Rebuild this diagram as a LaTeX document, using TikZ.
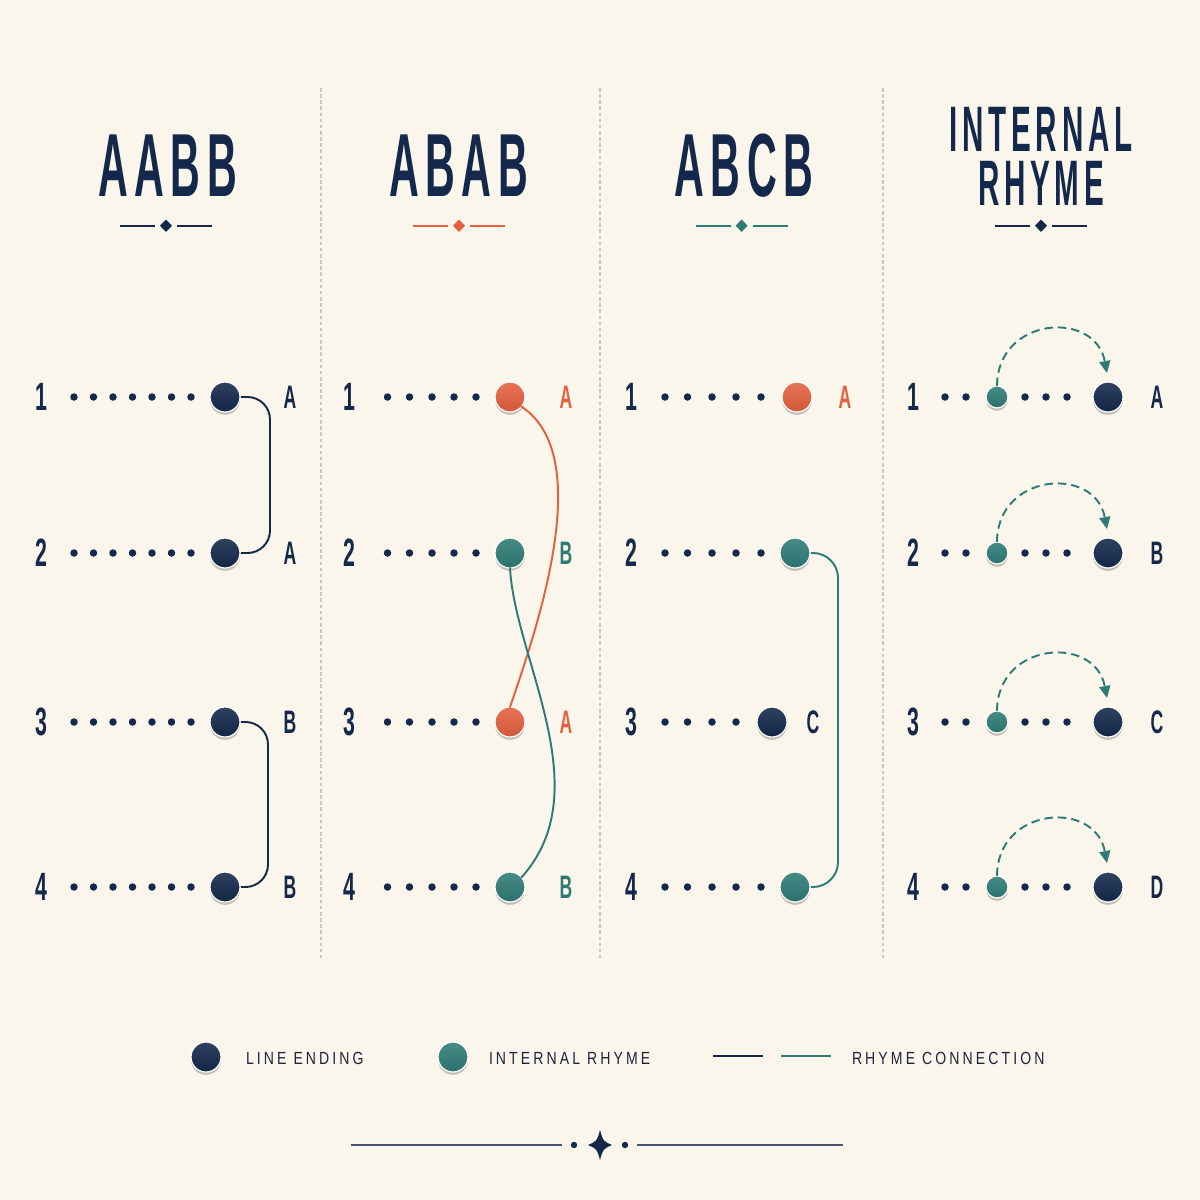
\documentclass[tikz,border=0pt]{standalone}
\usepackage{fontspec}
\usepackage{graphicx}
\usetikzlibrary{arrows.meta,shadows}
\setmainfont{Liberation Sans}
\newfontfamily\tfont{Liberation Sans}[LetterSpace=16]
\newfontfamily\lgfont{Liberation Sans}[LetterSpace=22]
\definecolor{bgc}{HTML}{FBF6EC}
\definecolor{navy}{HTML}{13284A}
\definecolor{orng}{HTML}{E4603E}
\definecolor{tealc}{HTML}{2E7B76}
\definecolor{sepc}{HTML}{CEC7BA}
\definecolor{ornc}{HTML}{4A566F}
\definecolor{legc}{HTML}{1C2438}
\newcommand\ttl[1]{\scalebox{0.46}[1]{\fontsize{51}{51}\selectfont\tfont\bfseries #1}}
\newcommand\ttlb[1]{\scalebox{0.46}[1]{\fontsize{36.6}{36.6}\selectfont\tfont\bfseries #1}}
\newcommand\rnum[1]{\scalebox{0.54}[1]{\fontsize{22.5}{22.5}\selectfont\bfseries #1}}
\newcommand\rlab[1]{\scalebox{0.54}[1]{\fontsize{18.5}{18.5}\selectfont\bfseries #1}}
\newcommand\lgd[1]{\scalebox{0.8}[1]{\fontsize{10}{10}\selectfont\lgfont #1}}
\tikzset{
  every node/.style={inner sep=0pt, outer sep=0pt},
  bigdot/.style={circle, minimum size=0.6cm, draw=white!75!bgc, line width=0.7pt,
    drop shadow={shadow xshift=0pt, shadow yshift=-1.6pt, opacity=0.22, fill=black},
    top color=#1!88!white, bottom color=#1!92!black},
  intdot/.style={bigdot=#1, minimum size=0.44cm},
  sdot/.style={circle, fill=navy, minimum size=0.15cm},
  conn/.style={line width=1.1pt, line cap=round},
  sepline/.style={sepc, line width=0.6pt, dash pattern=on 2pt off 1.5pt},
  ornline/.style={line width=1pt},
  arcarrow/.style={tealc, line width=1.1pt, dash pattern=on 0.17cm off 0.1cm,
    -{Triangle[length=0.24cm,width=0.22cm]}},
}
\begin{document}
\begin{tikzpicture}[x=0.02cm, y=-0.02cm]
\fill[bgc] (0,0) rectangle (1200,1200);
\useasboundingbox (0,0) rectangle (1200,1200);

% separators
\draw[sepline] (321,88) -- (321,958);
\draw[sepline] (600,88) -- (600,958);
\draw[sepline] (883,88) -- (883,958);

% titles
\node[anchor=base, text=navy] (t1) at (167.5,196) {\ttl{AABB}};
\node[anchor=base, text=navy] (t2) at (458.5,196) {\ttl{ABAB}};
\node[anchor=base, text=navy] (t3) at (744,196) {\ttl{ABCB}};
\node[text=navy, align=center, font=\fontsize{36.6}{30.7}\selectfont] (t4) at (1041,156)
  {\ttlb{INTERNAL}\\\ttlb{RHYME}};

% title ornaments
\foreach \cx/\cc in {166/navy,459/orng,741.6/tealc,1041/navy}{
  \draw[ornline, \cc] (\cx-46,225.7) -- (\cx-11,225.7);
  \draw[ornline, \cc] (\cx+11,225.7) -- (\cx+46,225.7);
  \fill[\cc] (\cx,219.5) -- (\cx+6,225.7) -- (\cx,231.9) -- (\cx-6,225.7) -- cycle;
}

% ---------- column 1 : AABB
\foreach \r/\y/\l in {1/397/A,2/553/A,3/722/B,4/887/B}{
  \node[text=navy] (c1n\r) at (41.5,\y) {\rnum{\r}};
  \foreach \k [count=\i] in {74,93.5,113,132.5,152,171.5,191}{
    \node[sdot] (c1r\r s\i) at (\k,\y) {};
  }
  \node[text=navy] (c1l\r) at (290,\y) {\rlab{\l}};
}
\draw[conn, navy, rounded corners=0.45cm] (225,397) ++(16,0) -- (270,397) -- (270,553) -- (241,553);
\draw[conn, navy, rounded corners=0.45cm] (225,722) ++(16,0) -- (268,722) -- (268,887) -- (241,887);
\foreach \r/\y in {1/397,2/553,3/722,4/887}{
  \node[bigdot=navy] (c1d\r) at (225,\y) {};
}

% ---------- column 2 : ABAB
\foreach \r/\y/\l/\cc in {1/397/A/orng,2/553/B/tealc,3/722/A/orng,4/887/B/tealc}{
  \node[text=navy] (c2n\r) at (349,\y) {\rnum{\r}};
  \foreach \k [count=\i] in {387.5,409.5,432,454,476}{
    \node[sdot] (c2r\r s\i) at (\k,\y) {};
  }
  \node[text=\cc] (c2l\r) at (566,\y) {\rlab{\l}};
  \node[bigdot=\cc] (c2d\r) at (510,\y) {};
}
\draw[conn, orng] (c2d1.-40) .. controls (595,455) and (540,620) .. (c2d3.north);
\draw[conn, tealc] (c2d2.south) .. controls (515,660) and (600,790) .. (c2d4.40);

% ---------- column 3 : ABCB
\foreach \r/\y in {1/397,2/553,3/722,4/887}{
  \node[text=navy] (c3n\r) at (631,\y) {\rnum{\r}};
}
\foreach \r/\y in {1/397,2/553,4/887}{
  \foreach \k [count=\i] in {665,687.5,712,736,761}{
    \node[sdot] (c3r\r s\i) at (\k,\y) {};
  }
}
\foreach \k [count=\i] in {665,687.5,712,736}{
  \node[sdot] (c3r3s\i) at (\k,722) {};
}
\node[bigdot=orng] (c3d1) at (797,397) {};
\node[text=orng] (c3l1) at (845,397) {\rlab{A}};
\node[bigdot=navy] (c3d3) at (772,722) {};
\node[text=navy] (c3l3) at (813,722) {\rlab{C}};
\draw[conn, tealc, rounded corners=0.5cm] (795,553) ++(16,0) -- (838,553) -- (838,887) -- (811,887);
\node[bigdot=tealc] (c3d2) at (795,553) {};
\node[bigdot=tealc] (c3d4) at (795,887) {};

% ---------- column 4 : internal rhyme
\foreach \r/\y/\l in {1/397/A,2/553/B,3/722/C,4/887/D}{
  \node[text=navy] (c4n\r) at (913,\y) {\rnum{\r}};
  \foreach \k [count=\i] in {945,966,1025,1046,1067}{
    \node[sdot] (c4r\r s\i) at (\k,\y) {};
  }
  \node[intdot=tealc] (c4i\r) at (997,\y) {};
  \node[bigdot=navy] (c4d\r) at (1108,\y) {};
  \node[text=navy] (c4l\r) at (1157,\y) {\rlab{\l}};
  \coordinate (c4t\r) at (1107,\y-24);
  \draw[arcarrow] (c4i\r.north) .. controls (997,\y-80) and (1095,\y-88) .. (c4t\r);
}

% ---------- legend
\node[bigdot=navy] (lg1) at (206,1057) {};
\node[anchor=west, text=legc] (lt1) at (246,1058) {\lgd{LINE ENDING}};
\node[bigdot=tealc] (lg2) at (453,1057) {};
\node[anchor=west, text=legc] (lt2) at (489,1058) {\lgd{INTERNAL RHYME}};
\coordinate (la1) at (713,1056); \coordinate (lb1) at (763,1056);
\coordinate (la2) at (781,1056); \coordinate (lb2) at (831,1056);
\draw[navy, line width=1.6pt] (la1) -- (lb1);
\draw[tealc, line width=1.6pt] (la2) -- (lb2);
\node[anchor=west, text=legc] (lt3) at (852,1058) {\lgd{RHYME CONNECTION}};

% ---------- bottom ornament
\draw[ornc, line width=1.1pt] (351,1145) -- (562,1145);
\draw[ornc, line width=1.1pt] (637,1145) -- (843,1145);
\fill[navy] (574,1145) circle (3.2);
\fill[navy] (625,1145) circle (3.2);
\fill[navy] (600,1130) .. controls (603,1141) .. (612,1145) .. controls (603,1149) .. (600,1160)
  .. controls (597,1149) .. (588,1145) .. controls (597,1141) .. cycle;
\end{tikzpicture}
\end{document}
